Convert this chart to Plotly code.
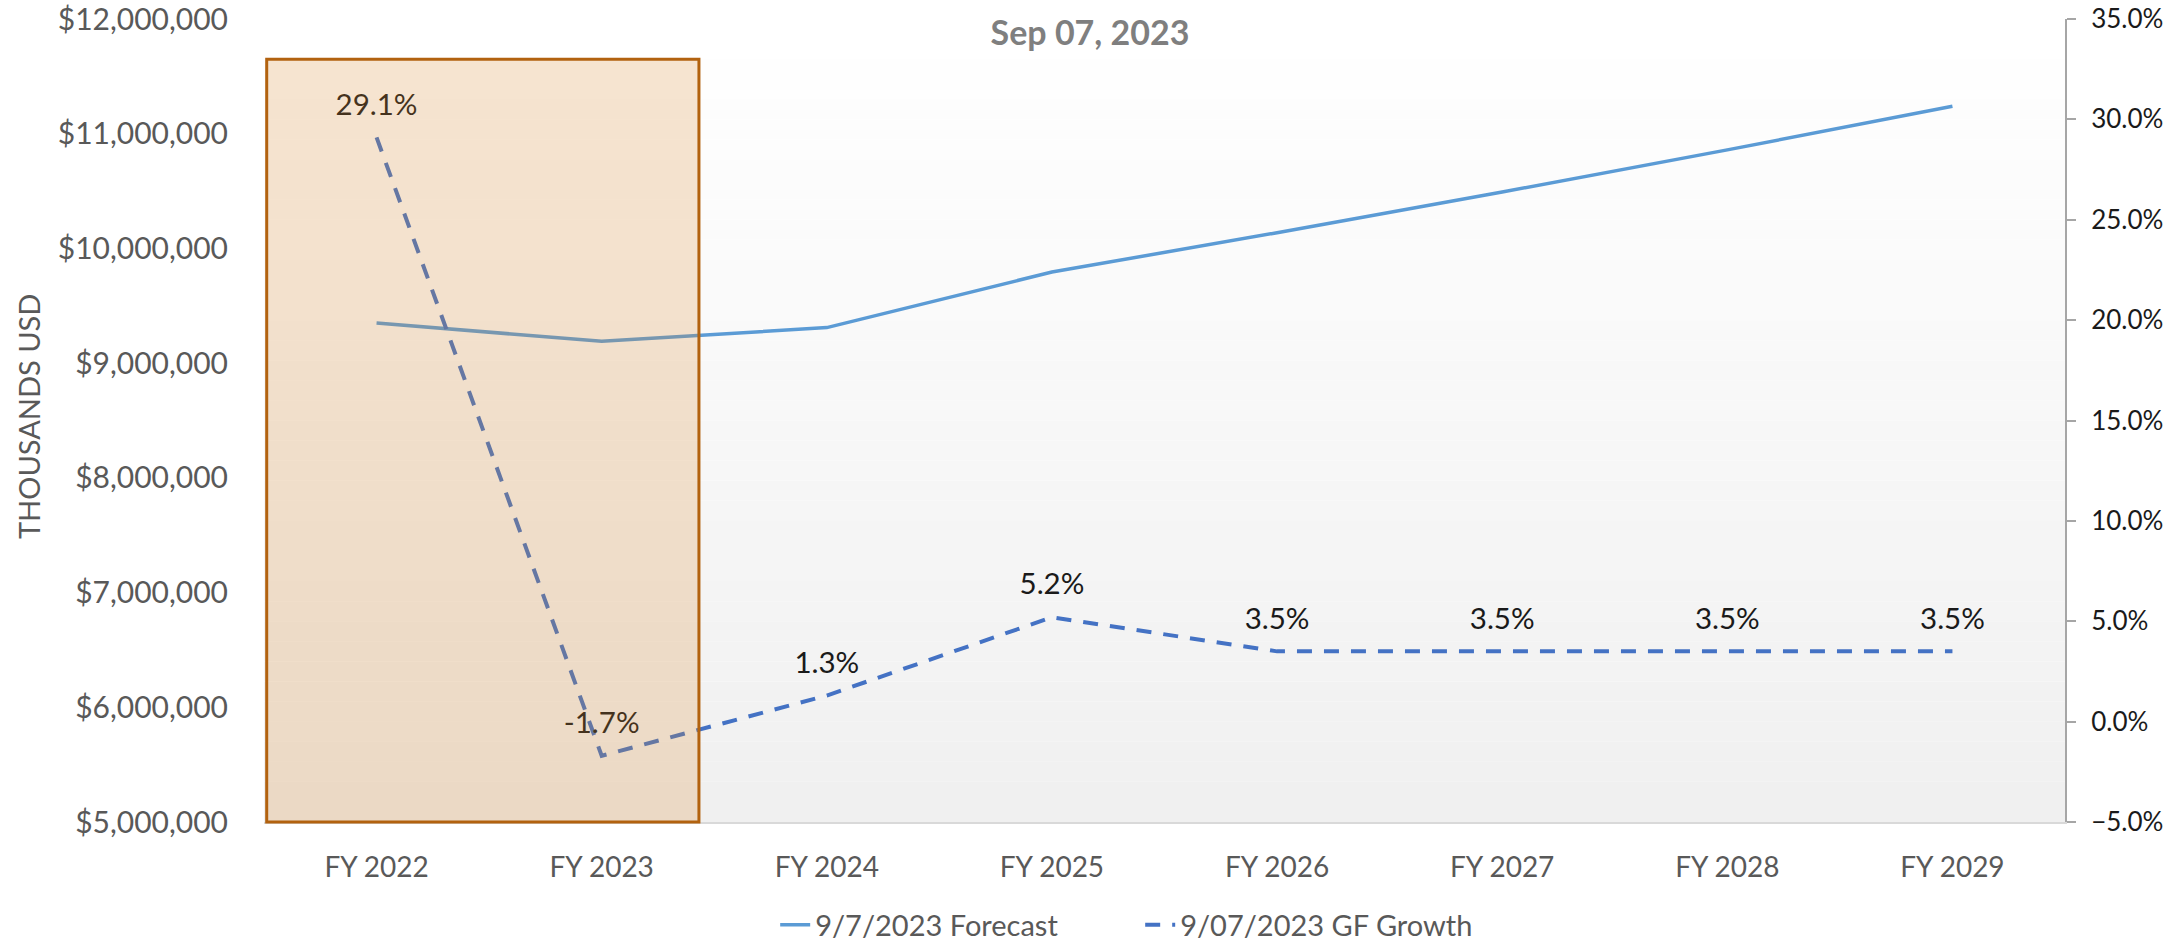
import plotly.graph_objects as go

# ---- data ----
categories = ["FY 2022", "FY 2023", "FY 2024", "FY 2025", "FY 2026", "FY 2027", "FY 2028", "FY 2029"]
forecast = [9350000, 9190000, 9310000, 9794000, 10137000, 10492000, 10859000, 11239000]
growth = [29.1, -1.7, 1.3, 5.2, 3.5, 3.5, 3.5, 3.5]
growth_labels = [f"{g:.1f}%" for g in growth]
forecast_name = "9/7/2023 Forecast"
growth_name = "9/07/2023 GF Growth"
subtitle = "Sep 07, 2023"
y_title = "THOUSANDS USD"

FONT = "Lato"
W, H = 2178, 943
ML, MR, MT, MB = 264, 113, 19, 121
PW, PH = W - ML - MR, H - MT - MB

fig = go.Figure()

fig.add_trace(go.Scatter(
    x=categories, y=forecast, name=forecast_name, mode="lines",
    line=dict(color="#5B9BD5", width=3.5), yaxis="y", hoverinfo="skip"))

fig.add_trace(go.Scatter(
    x=categories, y=growth, name=growth_name, mode="lines+markers+text",
    line=dict(color="#4472C4", width=4, dash="15px,12px"),
    marker=dict(size=23, color="rgba(0,0,0,0)"),
    text=growth_labels, textposition="top center",
    textfont=dict(family=FONT, size=29.5, color="#1A1A1A"),
    yaxis="y2", hoverinfo="skip"))

# gradient plot background (style only)
shapes = []
N = 40
for i in range(N):
    t = i / (N - 1)
    v = int(round(240 + 15 * t))
    shapes.append(dict(type="rect", xref="paper", yref="paper",
                       x0=0, x1=1, y0=i / N, y1=(i + 1) / N,
                       fillcolor=f"rgb({v},{v},{v})", line=dict(width=0), layer="below"))
# highlighted region box
shapes.append(dict(type="rect", xref="paper", yref="paper",
                   x0=0.0015, x1=0.2415, y0=0.0, y1=0.950,
                   fillcolor="rgba(219,137,46,0.22)",
                   line=dict(color="#B2620F", width=3), layer="above"))

fig.update_layout(
    width=W, height=H,
    margin=dict(l=ML, r=MR, t=MT, b=MB, autoexpand=False),
    paper_bgcolor="white", plot_bgcolor="rgba(0,0,0,0)",
    font=dict(family=FONT, color="#595959"),
    shapes=shapes,
    showlegend=True,
    legend=dict(orientation="h", x=0.4865, xanchor="center", y=-0.128, yanchor="middle",
                font=dict(family=FONT, size=29, color="#595959"),
                entrywidth=320, bgcolor="rgba(0,0,0,0)"),
    title=dict(text=f"<b>{subtitle}</b>", x=1090 / W, xanchor="center",
               y=1 - 33 / H, yanchor="middle", xref="container", yref="container",
               font=dict(family=FONT, size=34, color="#7F7F7F")),
    annotations=[dict(text=y_title, textangle=-90, xref="paper", yref="paper",
                      x=(28 - ML) / PW, y=1 - (417 - MT) / PH,
                      xanchor="center", yanchor="middle", showarrow=False,
                      font=dict(family=FONT, size=29, color="#595959"))],
    xaxis=dict(type="category", range=[-0.5, 7.5], showgrid=False, zeroline=False,
               showline=True, linecolor="#D9D9D9", linewidth=1.5, ticks="", automargin=False,
               tickfont=dict(family=FONT, size=28, color="#595959"), ticklabelstandoff=20),
    yaxis=dict(range=[5000000, 12000000], dtick=1000000, tickformat="$,.0f", automargin=False,
               showgrid=False, zeroline=False, showline=False, ticks="", ticklabeloverflow="allow",
               tickfont=dict(family=FONT, size=30, color="#595959"), ticklabelstandoff=35),
    yaxis2=dict(range=[-5, 35], dtick=5, tickformat=".1f", ticksuffix="%", overlaying="y",
                side="right", showgrid=False, zeroline=False, showline=True, automargin=False,
                linecolor="#A6A6A6", linewidth=2, ticks="outside", ticklen=9,
                tickcolor="#A6A6A6", tickwidth=1.5, ticklabeloverflow="allow",
                tickfont=dict(family=FONT, size=26, color="#1A1A1A"), ticklabelstandoff=10),
)

fig.write_html("out.html", config={"displayModeBar": False},
               post_script="document.body.style.margin='0';")
